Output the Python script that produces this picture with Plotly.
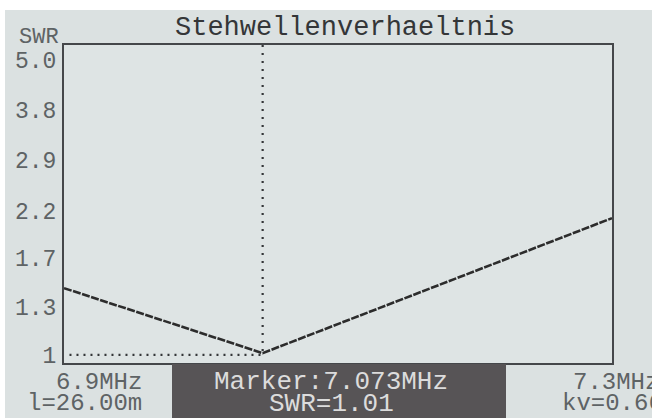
import plotly.graph_objects as go
import math

# ---- data ----
freq_mhz = [6.9, 7.045, 7.3]
swr = [1.44, 1.01, 2.11]
marker_freq = 7.045
marker_swr = 1.01
swr_ticks = [1, 1.3, 1.7, 2.2, 2.9, 3.8, 5.0]
swr_tick_labels = ["1", "1.3", "1.7", "2.2", "2.9", "3.8", "5.0"]
y_range = [0.957, 5.43]
x_range = [6.9, 7.3]

title_text = "Stehwellenverhaeltnis"
y_title = "SWR"
left_lines = ["6.9MHz", "l=26.00m"]
marker_lines = ["Marker:7.073MHz", "SWR=1.01"]
right_lines = ["7.3MHz", "kv=0.66"]

# ---- layout geometry ----
W, H = 652, 418
L, R, T, B = 64, 612, 45, 363


def px(xp):
    return (xp - L) / (R - L)


def py(yp):
    return (B - yp) / (B - T)


FONT = "Liberation Mono"
LCD_BG = "#dbe1e1"
DARK = "#343638"
GRAY = "#5e6365"

fig = go.Figure()

# horizontal dotted reference at SWR = 1 up to marker
fig.add_trace(go.Scatter(
    x=[x_range[0] + 0.004, marker_freq], y=[1, 1], mode="lines",
    line=dict(color=DARK, width=2.2, dash="2px,5px"), hoverinfo="skip", showlegend=False))
# vertical dotted marker line
fig.add_trace(go.Scatter(
    x=[marker_freq, marker_freq], y=[y_range[1], marker_swr], mode="lines",
    line=dict(color=DARK, width=2.2, dash="2px,6px"), hoverinfo="skip", showlegend=False))
# SWR curve
fig.add_trace(go.Scatter(
    x=freq_mhz, y=swr, mode="lines",
    line=dict(color="#2c2c2c", width=2.6, dash="8px,1.5px"), showlegend=False))

shapes = [
    # white photo border strips
    dict(type="rect", xref="paper", yref="paper", x0=px(0), x1=px(W), y0=py(10), y1=py(0),
         fillcolor="white", line=dict(width=0), layer="above"),
    dict(type="rect", xref="paper", yref="paper", x0=px(0), x1=px(5), y0=py(H), y1=py(0),
         fillcolor="white", line=dict(width=0), layer="above"),
    # dark marker info box
    dict(type="rect", xref="paper", yref="paper", x0=px(172), x1=px(506), y0=py(H + 2), y1=py(364),
         fillcolor="#575456", line=dict(width=0), layer="above"),
]

ann = []
ann.append(dict(text=title_text, x=px(345), y=py(28), xref="paper", yref="paper",
                xanchor="center", yanchor="middle", showarrow=False,
                font=dict(family=FONT, size=27, color=DARK)))
ann.append(dict(text=y_title, x=px(61), y=py(38), xref="paper", yref="paper",
                xanchor="right", yanchor="middle", showarrow=False,
                font=dict(family=FONT, size=22, color=GRAY)))
for i, t in enumerate(left_lines):
    ann.append(dict(text=t, x=px(144), y=py(382 + 21 * i), xref="paper", yref="paper",
                    xanchor="right", yanchor="middle", showarrow=False,
                    font=dict(family=FONT, size=24, color=GRAY)))
for i, t in enumerate(marker_lines):
    ann.append(dict(text=t, x=px(331), y=py(382 + 22 * i), xref="paper", yref="paper",
                    xanchor="center", yanchor="middle", showarrow=False,
                    font=dict(family=FONT, size=26, color="#dcdcdc")))
for i, t in enumerate(right_lines):
    ann.append(dict(text=t, x=px(661 + 4 * i), y=py(382 + 21 * i), xref="paper", yref="paper",
                    xanchor="right", yanchor="middle", showarrow=False,
                    font=dict(family=FONT, size=24, color=GRAY)))

fig.update_layout(
    width=W, height=H,
    margin=dict(l=L, r=W - R, t=T, b=H - B),
    paper_bgcolor=LCD_BG, plot_bgcolor="#dee4e4",
    shapes=shapes, annotations=ann,
    xaxis=dict(range=x_range, showgrid=False, zeroline=False, showticklabels=False, ticks="",
               showline=True, mirror=True, linecolor="#45474a", linewidth=2),
    yaxis=dict(type="log", range=[math.log10(y_range[0]), math.log10(y_range[1])],
               tickvals=swr_ticks, ticktext=swr_tick_labels, showgrid=False, zeroline=False,
               ticks="", ticklabelstandoff=1,
               tickfont=dict(family=FONT, size=23, color=GRAY),
               showline=True, mirror=True, linecolor="#45474a", linewidth=2),
)

fig.write_html("out.html", config={"displayModeBar": False},
               post_script="document.body.style.margin='0';document.body.style.overflow='hidden';")
